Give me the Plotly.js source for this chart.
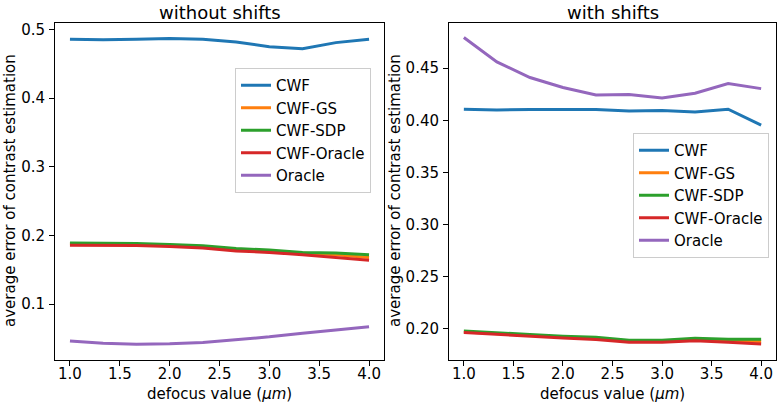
<!DOCTYPE html>
<html>
<head>
<meta charset="utf-8">
<script src="https://cdn.plot.ly/plotly-3.0.1.min.js"></script>
<style>html,body{margin:0;padding:0;background:#fff;}#chart{width:780px;height:405px;}</style>
</head>
<body>
<div id="chart"></div>
<script>
// defocus values (µm)
const defocus = [1.0, 1.333, 1.667, 2.0, 2.333, 2.667, 3.0, 3.333, 3.667, 4.0];
const seriesNames = ["CWF", "CWF-GS", "CWF-SDP", "CWF-Oracle", "Oracle"];
const seriesColors = ["#1f77b4", "#ff7f0e", "#2ca02c", "#d62728", "#9467bd"];

// without shifts
const noShiftCWF       = [0.486, 0.485, 0.486, 0.487, 0.486, 0.482, 0.475, 0.472, 0.481, 0.486];
const noShiftCWFGS     = [0.188, 0.188, 0.187, 0.186, 0.184, 0.179, 0.177, 0.174, 0.172, 0.168];
const noShiftCWFSDP    = [0.189, 0.189, 0.1885, 0.187, 0.185, 0.181, 0.179, 0.1755, 0.1745, 0.172];
const noShiftCWFOracle = [0.186, 0.186, 0.1855, 0.184, 0.182, 0.1775, 0.1755, 0.172, 0.1685, 0.164];
const noShiftOracle    = [0.0466, 0.0433, 0.0418, 0.0423, 0.0441, 0.0481, 0.0525, 0.0578, 0.0627, 0.0671];

// with shifts
const shiftCWF       = [0.4106, 0.4099, 0.4103, 0.4106, 0.4103, 0.409, 0.4093, 0.408, 0.4106, 0.3954];
const shiftCWFGS     = [0.197, 0.1955, 0.1937, 0.192, 0.1905, 0.188, 0.188, 0.1898, 0.1885, 0.1878];
const shiftCWFSDP    = [0.198, 0.196, 0.1945, 0.193, 0.192, 0.189, 0.189, 0.191, 0.190, 0.190];
const shiftCWFOracle = [0.1965, 0.195, 0.1929, 0.1913, 0.1897, 0.1872, 0.1872, 0.1886, 0.1872, 0.1855];
const shiftOracle    = [0.4794, 0.456, 0.441, 0.4314, 0.4243, 0.4247, 0.4214, 0.4259, 0.4352, 0.4304];

const titles = ["without shifts", "with shifts"];
const xLabel = "defocus value (<i>μm</i>)";
const yLabel = "average error of contrast estimation";
const xTicks = [1.0, 1.5, 2.0, 2.5, 3.0, 3.5, 4.0];
const yTicksLeft = [0.1, 0.2, 0.3, 0.4, 0.5];
const yTicksRight = [0.20, 0.25, 0.30, 0.35, 0.40, 0.45];

const FONT = "DejaVu Sans, sans-serif";
const FS = 15;
const leftSets = [noShiftCWF, noShiftCWFGS, noShiftCWFSDP, noShiftCWFOracle, noShiftOracle];
const rightSets = [shiftCWF, shiftCWFGS, shiftCWFSDP, shiftCWFOracle, shiftOracle];

const traces = [];
leftSets.forEach((ys, i) => traces.push({
  x: defocus, y: ys, name: seriesNames[i], type: "scatter", mode: "lines",
  line: {color: seriesColors[i], width: 3}, xaxis: "x", yaxis: "y", legend: "legend"
}));
rightSets.forEach((ys, i) => traces.push({
  x: defocus, y: ys, name: seriesNames[i], type: "scatter", mode: "lines",
  line: {color: seriesColors[i], width: 3}, xaxis: "x2", yaxis: "y2", legend: "legend2"
}));

const axisCommon = {
  showgrid: false, zeroline: false, showline: true, mirror: true,
  linecolor: "#000", linewidth: 1, ticks: "outside", ticklen: 5, tickwidth: 1,
  tickcolor: "#000", tickfont: {family: FONT, size: FS, color: "#000"}
};
const yDom = [1 - 359.5/405, 1 - 22.5/405];
const legendCommon = {
  bgcolor: "rgba(255,255,255,0.8)", bordercolor: "#cccccc", borderwidth: 1,
  font: {family: FONT, size: FS, color: "#000"}, xanchor: "right", yanchor: "top"
};

const layout = {
  width: 780, height: 405,
  margin: {l: 0, r: 0, t: 0, b: 0},
  paper_bgcolor: "#fff", plot_bgcolor: "#fff",
  showlegend: true,
  xaxis: Object.assign({}, axisCommon, {domain: [55/780, 384/780], range: [0.85, 4.15],
    tickvals: xTicks, tickformat: ".1f", anchor: "y", ticklabelstandoff: -5}),
  yaxis: Object.assign({}, axisCommon, {domain: yDom, range: [0.0195, 0.5103],
    tickvals: yTicksLeft, tickformat: ".1f", anchor: "x", ticklabelstandoff: 1}),
  xaxis2: Object.assign({}, axisCommon, {domain: [449/780, 776/780], range: [0.85, 4.15],
    tickvals: xTicks, tickformat: ".1f", anchor: "y2", ticklabelstandoff: -5}),
  yaxis2: Object.assign({}, axisCommon, {domain: yDom, range: [0.1706, 0.4938],
    tickvals: yTicksRight, tickformat: ".2f", anchor: "x2", ticklabelstandoff: 1}),
  legend: Object.assign({}, legendCommon, {x: 371/780, y: 1 - 68/405}),
  legend2: Object.assign({}, legendCommon, {x: 769/780, y: 1 - 133/405}),
  annotations: [
    {text: titles[0], x: (55+384)/2/780, y: 1 - 12/405, xref: "paper", yref: "paper",
     showarrow: false, xanchor: "center", yanchor: "middle", font: {family: FONT, size: 18, color: "#000"}},
    {text: titles[1], x: (449+776)/2/780, y: 1 - 12/405, xref: "paper", yref: "paper",
     showarrow: false, xanchor: "center", yanchor: "middle", font: {family: FONT, size: 18, color: "#000"}},
    {text: xLabel, x: (55+384)/2/780, y: 1 - 394/405, xref: "paper", yref: "paper",
     showarrow: false, xanchor: "center", yanchor: "middle", font: {family: FONT, size: FS, color: "#000"}},
    {text: xLabel, x: (449+776)/2/780, y: 1 - 394/405, xref: "paper", yref: "paper",
     showarrow: false, xanchor: "center", yanchor: "middle", font: {family: FONT, size: FS, color: "#000"}},
    {text: yLabel, x: 10/780, y: 1 - 191/405, xref: "paper", yref: "paper", textangle: -90,
     showarrow: false, xanchor: "center", yanchor: "middle", font: {family: FONT, size: FS, color: "#000"}},
    {text: yLabel, x: 395/780, y: 1 - 191/405, xref: "paper", yref: "paper", textangle: -90,
     showarrow: false, xanchor: "center", yanchor: "middle", font: {family: FONT, size: FS, color: "#000"}}
  ]
};

Plotly.newPlot("chart", traces, layout, {displayModeBar: false, staticPlot: true});
</script>
</body>
</html>
